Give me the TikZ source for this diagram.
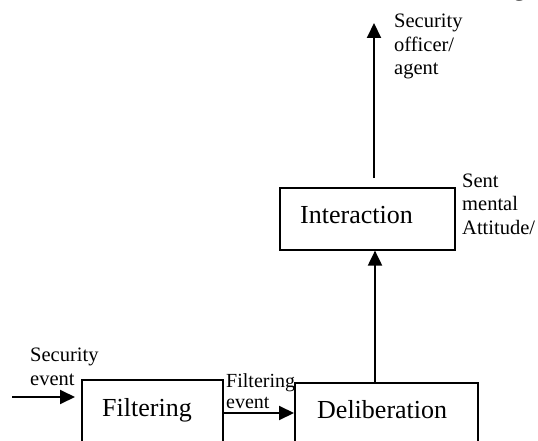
\documentclass[tikz,border=0pt]{standalone}
\usepackage{fontspec}
\setmainfont{Liberation Serif}
\usetikzlibrary{arrows.meta}

\tikzset{
  blockbox/.style={draw=black, line width=1.6pt, fill=white, inner sep=0pt, anchor=north west},
  blocktext/.style={inner sep=0pt, anchor=base west, font=\fontsize{26}{30}\selectfont},
  % multi-line notes are placed by the baseline of their last line
  note/.style={inner sep=0pt, anchor=base west, align=left, font=\fontsize{20.5}{23.5}\selectfont},
  flow/.style={line width=2pt, -{Triangle[width=14pt,length=15pt]}},
}

\begin{document}
\begin{tikzpicture}[x=1pt, y=-1pt]
  \clip (0,0) rectangle (538,441);
  \fill[white] (0,0) rectangle (538,441);

  % process blocks
  \node[blockbox, minimum width=141pt, minimum height=100pt] (filt) at (81,379) {};
  \node[blockbox, minimum width=183pt, minimum height=100pt] (delib) at (294,382) {};
  \node[blockbox, minimum width=175pt, minimum height=62pt] (inter) at (279,187) {};

  \node[blocktext] (filtlbl) at (102,416) {Filtering};
  \node[blocktext] (deliblbl) at (317,418) {Deliberation};
  \node[blocktext] (interlbl) at (300,223) {Interaction};

  % free ends of the open connectors
  \coordinate (inpt) at (12,397);
  \coordinate (inend) at (75,397);
  \coordinate (outstart) at (374,178);
  \coordinate (outend) at (374,23);

  % connectors
  \draw[flow] (inpt) -- (inend);
  \draw[flow] (filt.east |- 0,413) -- (delib.west |- 0,413);
  \draw[flow] (delib.north -| 375,0) -- (inter.south -| 375,0);
  \draw[flow] (outstart) -- (outend);

  % labels
  \node[note] (secev) at (30,385) {Security\\event};
  \node[note, font=\fontsize{20}{21}\selectfont] (filtev) at (226,408) {Filtering\\event};
  \node[note] (sentatt) at (462,234) {Sent\\mental\\Attitude/};
  \node[note] (officer) at (394,75) {Security\\officer/\\agent};

  % partially visible glyph at the top edge
  \node[blocktext] (topg) at (513,-4) {g};
\end{tikzpicture}
\end{document}
